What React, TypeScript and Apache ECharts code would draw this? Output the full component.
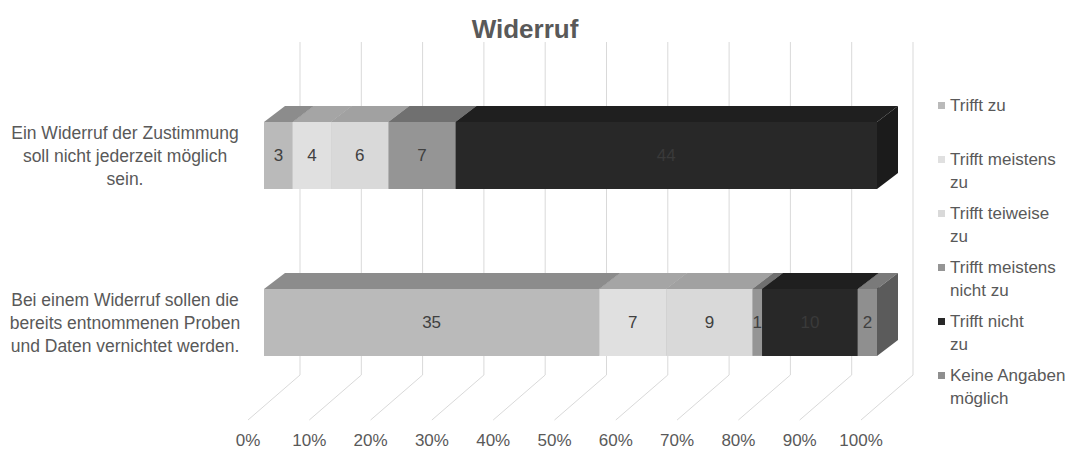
import React, { useEffect, useRef } from "react";
import * as echarts from "echarts";

const categories = [
  "Ein Widerruf der Zustimmung\nsoll nicht jederzeit möglich\nsein.",
  "Bei einem Widerruf sollen die\nbereits entnommenen Proben\nund Daten vernichtet werden.",
];
const seriesNames = [
  "Trifft zu",
  "Trifft meistens zu",
  "Trifft teiweise zu",
  "Trifft meistens nicht zu",
  "Trifft nicht zu",
  "Keine Angaben möglich",
];
const legendLabels = [
  "Trifft zu\n ",
  "Trifft meistens\nzu",
  "Trifft teiweise\nzu",
  "Trifft meistens\nnicht zu",
  "Trifft nicht\nzu",
  "Keine Angaben\nmöglich",
];
const trifftZu = [3, 35];
const trifftMeistensZu = [4, 7];
const trifftTeilweiseZu = [6, 9];
const trifftMeistensNichtZu = [7, 1];
const trifftNichtZu = [44, 10];
const keineAngaben = [0, 2];
const tickValues = [0, 10, 20, 30, 40, 50, 60, 70, 80, 90, 100];

const seriesValues = [trifftZu, trifftMeistensZu, trifftTeilweiseZu, trifftMeistensNichtZu, trifftNichtZu, keineAngaben];
const frontColors = ["#bababa", "#e0e0e0", "#d9d9d9", "#959595", "#282828", "#8f8f8f"];
const topColors = ["#8c8c8c", "#a5a5a5", "#a1a1a1", "#707070", "#1f1f1f", "#7a7a7a"];
const sideColors = ["#7a7a7a", "#9a9a9a", "#969696", "#666666", "#1b1b1b", "#5b5b5b"];
const labelColors = ["#404040", "#404040", "#404040", "#404040", "#3a3a3a", "#404040"];

const FONT = "'Liberation Sans', Arial, sans-serif";
const DX = 21;
const DY = -16;

export default function App() {
  const ref = useRef<HTMLDivElement>(null);
  useEffect(() => {
    document.body.style.margin = "0";
    const chart = echarts.init(ref.current!, null, { renderer: "svg" });
    const totals = categories.map((_, ci) => seriesValues.reduce((s, arr) => s + arr[ci], 0));
    const cum = categories.map(() => 0);

    const barSeries = seriesNames.map((name, si) => {
      const data = categories.map((_, ci) => {
        const v = seriesValues[si][ci];
        const start = (cum[ci] / totals[ci]) * 100;
        cum[ci] += v;
        const end = (cum[ci] / totals[ci]) * 100;
        return [start, end, ci, v];
      });
      return {
        type: "custom",
        name,
        xAxisIndex: 0,
        yAxisIndex: 0,
        z: 3,
        itemStyle: { color: frontColors[si] },
        encode: { x: [0, 1], y: 2 },
        data,
        renderItem: (params: any, api: any) => {
          const start = api.value(0);
          const end = api.value(1);
          const ci = api.value(2);
          const val = api.value(3);
          if (!(end > start)) return null;
          const p0 = api.coord([start, ci]);
          const p1 = api.coord([end, ci]);
          const h = api.size([0, 1])[1] * 0.4;
          const yt = p0[1] - h / 2;
          const yb = p0[1] + h / 2;
          const x0 = p0[0];
          const x1 = p1[0];
          return {
            type: "group",
            children: [
              {
                type: "polygon",
                shape: { points: [[x0, yt], [x0 + DX, yt + DY], [x1 + DX, yt + DY], [x1, yt]] },
                style: { fill: topColors[si] },
              },
              {
                type: "polygon",
                shape: { points: [[x1, yt], [x1 + DX, yt + DY], [x1 + DX, yb + DY], [x1, yb]] },
                style: { fill: sideColors[si] },
              },
              {
                type: "rect",
                shape: { x: x0, y: yt, width: x1 - x0, height: h },
                style: { fill: frontColors[si] },
              },
              {
                type: "text",
                x: (x0 + x1) / 2,
                y: p0[1],
                style: {
                  text: String(val),
                  align: "center",
                  verticalAlign: "middle",
                  fill: labelColors[si],
                  fontSize: 17,
                  fontFamily: FONT,
                },
              },
            ],
          };
        },
      };
    });

    const gridSeries = {
      type: "custom",
      name: "grid",
      xAxisIndex: 1,
      yAxisIndex: 1,
      z: 1,
      silent: true,
      data: tickValues.map((t) => [t]),
      encode: { x: 0 },
      renderItem: (params: any, api: any) => {
        const t = api.value(0);
        const p = api.coord([t, 0]);
        const q = api.coord([t, 1]);
        return {
          type: "polyline",
          shape: { points: [[p[0], p[1]], [p[0] + 52, p[1] - 45], [p[0] + 52, q[1]]] },
          style: { stroke: "#d9d9d9", lineWidth: 1, fill: "none" },
        };
      },
    };

    chart.setOption({
      animation: false,
      title: {
        text: "Widerruf",
        left: 520,
        top: 11,
        textAlign: "center",
        textStyle: { fontSize: 26, fontWeight: "bold", color: "#595959", fontFamily: FONT },
      },
      legend: {
        orient: "vertical",
        left: 933,
        top: 89,
        itemWidth: 7,
        itemHeight: 46,
        itemGap: 8,
        icon: "path://M0,0h0.01v0.01h-0.01z M0,8h7v7h-7z M0,45.99h0.01v0.01h-0.01z",
        data: seriesNames,
        formatter: (name: string) => legendLabels[seriesNames.indexOf(name)],
        textStyle: { fontSize: 17, lineHeight: 23, color: "#595959", fontFamily: FONT },
      },
      grid: [
        { left: 264, width: 613, top: 72, height: 334, containLabel: false, outerBoundsMode: "none" },
        { left: 248, width: 613, top: 42, height: 378, containLabel: false, outerBoundsMode: "none" },
      ],
      xAxis: [
        { type: "value", gridIndex: 0, min: 0, max: 100, show: false },
        {
          type: "value",
          gridIndex: 1,
          min: 0,
          max: 100,
          interval: 10,
          axisLine: { show: false },
          axisTick: { show: false },
          splitLine: { show: false },
          axisLabel: {
            formatter: "{value}%",
            margin: 12,
            fontSize: 17,
            lineHeight: 17,
            color: "#595959",
            fontFamily: FONT,
          },
        },
      ],
      yAxis: [
        {
          type: "category",
          gridIndex: 0,
          inverse: true,
          data: categories,
          axisLine: { show: false },
          axisTick: { show: false },
          splitLine: { show: false },
          axisLabel: {
            align: "center",
            margin: 139,
            padding: [26, 0, 0, 0],
            lineHeight: 23,
            fontSize: 17.5,
            color: "#595959",
            fontFamily: FONT,
          },
        },
        { type: "value", gridIndex: 1, min: 0, max: 1, show: false },
      ],
      series: [gridSeries, ...barSeries],
    });
    return () => chart.dispose();
  }, []);
  return <div ref={ref} style={{ width: 1068, height: 450 }} />;
}
